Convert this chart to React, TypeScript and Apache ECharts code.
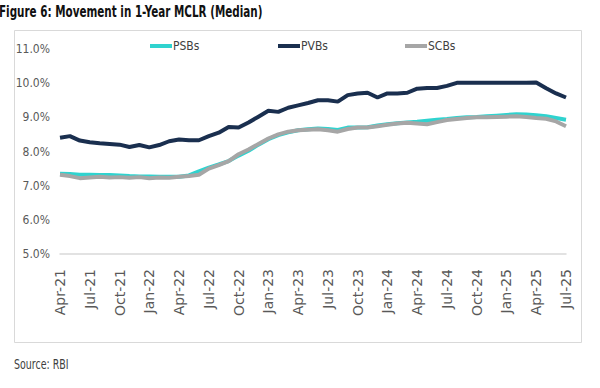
import React, { useEffect, useRef } from "react";
import * as echarts from "echarts";

const months = ["Apr", "May", "Jun", "Jul", "Aug", "Sep", "Oct", "Nov", "Dec", "Jan", "Feb", "Mar"];
const categories: string[] = [];
for (let i = 0; i < 52; i++) {
  const y = 2021 + Math.floor((3 + i) / 12);
  categories.push(months[i % 12] + "-" + String(y).slice(2));
}

const psbs = [
  7.35, 7.34, 7.32, 7.32, 7.31, 7.31, 7.30, 7.28, 7.27, 7.27, 7.26, 7.26, 7.26,
  7.30, 7.42, 7.53, 7.62, 7.72, 7.88, 8.02, 8.20, 8.36, 8.48, 8.56, 8.62, 8.65,
  8.67, 8.66, 8.63, 8.70, 8.70, 8.71, 8.76, 8.80, 8.83, 8.85, 8.87, 8.90, 8.93,
  8.95, 8.98, 9.00, 9.01, 9.03, 9.05, 9.07, 9.09, 9.08, 9.06, 9.03, 8.98, 8.93,
];
const pvbs = [
  8.40, 8.45, 8.32, 8.27, 8.24, 8.22, 8.20, 8.13, 8.19, 8.12, 8.19, 8.30, 8.35,
  8.33, 8.33, 8.45, 8.55, 8.72, 8.70, 8.85, 9.02, 9.19, 9.16, 9.28, 9.35, 9.42,
  9.50, 9.50, 9.46, 9.65, 9.70, 9.72, 9.58, 9.70, 9.70, 9.72, 9.84, 9.86, 9.86,
  9.92, 10.01, 10.01, 10.01, 10.01, 10.01, 10.01, 10.01, 10.01, 10.02, 9.85, 9.70, 9.58,
];
const scbs = [
  7.32, 7.28, 7.22, 7.24, 7.26, 7.24, 7.25, 7.23, 7.25, 7.22, 7.24, 7.23, 7.26,
  7.28, 7.32, 7.50, 7.60, 7.72, 7.92, 8.06, 8.22, 8.38, 8.50, 8.58, 8.62, 8.64,
  8.65, 8.62, 8.58, 8.66, 8.70, 8.70, 8.74, 8.78, 8.82, 8.84, 8.82, 8.80, 8.86,
  8.92, 8.95, 8.98, 9.00, 9.00, 9.01, 9.02, 9.03, 9.01, 8.98, 8.96, 8.88, 8.74,
];

const seriesNames = ["PSBs", "PVBs", "SCBs"];
const seriesColors = ["#2fd3cf", "#1a2f4f", "#a6a6a6"];
const legendLeft = [150, 278, 405];

const NARROW = "'Liberation Sans Narrow', 'DejaVu Sans Condensed', 'Arial Narrow', sans-serif";

export default function App() {
  const ref = useRef<HTMLDivElement>(null);
  useEffect(() => {
    if (!ref.current) return;
    const chart = echarts.init(ref.current, null, { renderer: "svg" });
    const data = [psbs, pvbs, scbs];
    chart.setOption({
      animation: false,
      backgroundColor: "#ffffff",
      graphic: [
        {
          type: "rect",
          shape: { x: 14.5, y: 30.5, width: 567, height: 312 },
          style: { fill: "none", stroke: "#d9d9d9", lineWidth: 1 },
          silent: true,
        },
        {
          type: "text",
          x: -1,
          y: 3,
          scaleX: 0.77,
          scaleY: 1.05,
          style: {
            text: "Figure 6: Movement in 1-Year MCLR (Median)",
            fontFamily: NARROW,
            fontSize: 15,
            fontWeight: "bold",
            fill: "#111111",
            textVerticalAlign: "top",
          },
        },
        {
          type: "text",
          x: 14,
          y: 357,
          scaleX: 0.78,
          scaleY: 1.05,
          style: {
            text: "Source: RBI",
            fontFamily: NARROW,
            fontSize: 13.5,
            fill: "#404040",
            textVerticalAlign: "top",
          },
        },
      ],
      legend: seriesNames.map((n, i) => ({
        data: [n],
        left: legendLeft[i],
        top: 40,
        icon: "rect",
        itemWidth: 22,
        itemHeight: 4,
        padding: 0,
        textStyle: { fontFamily: NARROW, fontSize: 12, color: "#404040", padding: [0, 0, 0, -4] },
      })),
      grid: { left: 60, right: 34, top: 49, bottom: 134 },
      xAxis: {
        type: "category",
        data: categories,
        boundaryGap: false,
        axisLine: { show: true, lineStyle: { color: "#d9d9d9", width: 1.5 } },
        axisTick: { show: false },
        axisLabel: {
          interval: 2,
          rotate: 90,
          margin: 15,
          fontFamily: "'DejaVu Sans', Verdana, sans-serif",
          fontSize: 14,
          color: "#595959",
        },
        splitLine: { show: false },
      },
      yAxis: {
        type: "value",
        min: 5,
        max: 11,
        interval: 1,
        axisLine: { show: false },
        axisTick: { show: false },
        splitLine: { show: false },
        axisLabel: {
          margin: 10,
          fontFamily: NARROW,
          fontSize: 12,
          color: "#595959",
          formatter: (v: number) => v.toFixed(1) + "%",
        },
      },
      series: seriesNames.map((n, i) => ({
        name: n,
        type: "line",
        data: data[i],
        showSymbol: false,
        symbol: "none",
        lineStyle: { width: 4, color: seriesColors[i] },
        itemStyle: { color: seriesColors[i] },
      })),
    });
    return () => chart.dispose();
  }, []);
  return (
    <div
      ref={ref}
      style={{ position: "fixed", left: 0, top: 0, width: 600, height: 388 }}
    />
  );
}
